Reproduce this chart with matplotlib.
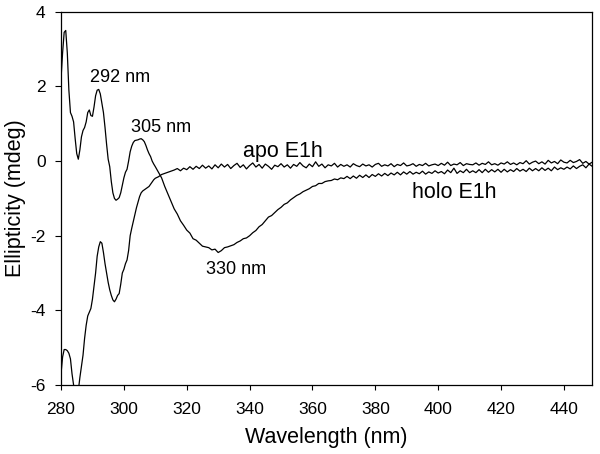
import numpy as np
import matplotlib
matplotlib.use("Agg")
import matplotlib.pyplot as plt

plt.rcParams['font.family'] = ['Liberation Sans', 'DejaVu Sans']
plt.rcParams['axes.unicode_minus'] = False

# wavelength grid: 0.5 nm steps over the structured part, 1 nm after that
wl_fine = np.arange(280.0, 310.01, 0.5)
wl_coarse = np.arange(311.0, 449.01, 1.0)
wavelength = np.concatenate([wl_fine, wl_coarse])

holo_fine = [
    2.20, 2.90, 3.45, 3.50, 2.90, 1.90, 1.30, 1.20, 1.05, 0.60,
    0.20, 0.05, 0.30, 0.65, 0.82, 0.90, 1.05, 1.30, 1.37, 1.22,
    1.20, 1.45, 1.75, 1.90, 1.92, 1.80, 1.55, 1.30, 0.90, 0.45,
    0.05, -0.15, -0.55, -0.85, -1.00, -1.05, -1.02, -0.98, -0.85, -0.65,
    -0.45, -0.30, -0.22, 0.00, 0.25, 0.40, 0.50, 0.55, 0.56, 0.57,
    0.59, 0.60, 0.57, 0.52, 0.42, 0.30, 0.20, 0.12, 0.00, -0.08,
    -0.15,
]
holo_coarse = [
    -0.30, -0.45, -0.68, -0.88, -1.08, -1.28, -1.42, -1.60, -1.72, -1.85,
    -1.93, -2.08, -2.12, -2.20, -2.28, -2.30, -2.32, -2.38, -2.36, -2.45,
    -2.40, -2.32, -2.30, -2.27, -2.24, -2.18, -2.14, -2.08, -2.06, -2.00,
    -1.92, -1.86, -1.76, -1.70, -1.60, -1.50, -1.46, -1.38, -1.30, -1.24,
    -1.16, -1.12, -1.04, -0.98, -0.92, -0.88, -0.82, -0.78, -0.74, -0.68,
    -0.66, -0.60, -0.60, -0.55, -0.53, -0.52, -0.48, -0.50, -0.45, -0.47,
    -0.41, -0.47, -0.40, -0.46, -0.38, -0.44, -0.37, -0.44, -0.36, -0.41,
    -0.34, -0.40, -0.33, -0.39, -0.32, -0.37, -0.30, -0.37, -0.29, -0.35,
    -0.28, -0.35, -0.30, -0.34, -0.27, -0.35, -0.29, -0.33, -0.26, -0.32,
    -0.28, -0.34, -0.24, -0.31, -0.19, -0.33, -0.26, -0.31, -0.22, -0.31,
    -0.26, -0.31, -0.23, -0.31, -0.22, -0.30, -0.23, -0.29, -0.22, -0.30,
    -0.22, -0.29, -0.23, -0.28, -0.20, -0.27, -0.22, -0.28, -0.19, -0.26,
    -0.20, -0.26, -0.18, -0.25, -0.19, -0.26, -0.16, -0.23, -0.18, -0.22,
    -0.16, -0.21, -0.13, -0.20, -0.14, -0.10, -0.18, -0.08, -0.14,
]

apo_fine = [
    -5.70, -5.25, -5.05, -5.05, -5.08, -5.15, -5.30, -5.70, -6.00, -6.40,
    -6.50, -6.15, -5.80, -5.50, -5.20, -4.75, -4.40, -4.15, -4.05, -3.95,
    -3.70, -3.35, -3.00, -2.55, -2.30, -2.16, -2.20, -2.45, -2.75, -3.00,
    -3.25, -3.45, -3.60, -3.72, -3.77, -3.70, -3.60, -3.55, -3.30, -3.00,
    -2.90, -2.75, -2.65, -2.40, -2.00, -1.80, -1.62, -1.45, -1.25, -1.10,
    -0.95, -0.85, -0.80, -0.77, -0.74, -0.71, -0.68, -0.62, -0.56, -0.50,
    -0.46,
]
apo_coarse = [
    -0.42, -0.36, -0.33, -0.30, -0.27, -0.24, -0.20, -0.26, -0.19, -0.23,
    -0.15, -0.22, -0.14, -0.20, -0.11, -0.19, -0.13, -0.21, -0.10, -0.18,
    -0.08, -0.16, -0.09, -0.20, -0.12, -0.06, -0.17, -0.10, -0.21, -0.12,
    -0.05, -0.16, -0.09, -0.19, -0.08, -0.14, -0.22, -0.11, -0.15, -0.07,
    -0.16, -0.10, -0.19, -0.09, -0.14, -0.04, -0.13, -0.18, -0.08, -0.15,
    -0.02, -0.14, -0.08, -0.18, -0.10, -0.13, -0.06, -0.16, -0.09, -0.14,
    -0.10, -0.16, -0.07, -0.12, -0.15, -0.08, -0.13, -0.10, -0.16, -0.09,
    -0.06, -0.14, -0.10, -0.13, -0.07, -0.15, -0.09, -0.12, -0.05, -0.13,
    -0.11, -0.07, -0.14, -0.09, -0.12, -0.06, -0.13, -0.10, -0.08, -0.12,
    -0.06, -0.11, -0.03, -0.12, -0.08, -0.10, -0.04, -0.12, -0.07, -0.09,
    -0.10, -0.05, -0.11, -0.06, -0.09, -0.02, -0.10, -0.07, -0.11, -0.05,
    -0.08, -0.02, -0.09, -0.05, -0.10, -0.04, -0.07, 0.01, -0.08, -0.03,
    0.00, -0.07, -0.02, -0.08, 0.02, -0.05, -0.01, -0.07, 0.03, -0.03,
    -0.05, 0.02, -0.04, -0.01, 0.04, -0.06, -0.01, -0.08, -0.03,
]

holo = np.array(holo_fine + holo_coarse)
apo = np.array(apo_fine + apo_coarse)

x_ticks = [280, 300, 320, 340, 360, 380, 400, 420, 440]
y_ticks = [-6, -4, -2, 0, 2, 4]

fig, ax = plt.subplots(figsize=(6, 4.54), dpi=100)
fig.subplots_adjust(left=0.1017, right=0.987, bottom=0.152, top=0.974)

ax.plot(wavelength, holo, color="black", lw=0.9)
ax.plot(wavelength, apo, color="black", lw=0.9)

ax.set_xlim(280, 449)
ax.set_ylim(-6, 4)
ax.set_xticks(x_ticks)
ax.set_yticks(y_ticks)
ax.tick_params(direction="out", width=0.8, labelsize=12.5)
ax.tick_params(axis="x", length=3.6, pad=8.6)
ax.tick_params(axis="y", length=4.6, pad=6.5)
for s in ax.spines.values():
    s.set_linewidth(0.9)

ax.set_xlabel("Wavelength (nm)", fontsize=15.5)
ax.set_ylabel("Ellipticity (mdeg)", fontsize=15.5)
ax.xaxis.set_label_coords(0.5, -0.1126)
ax.yaxis.set_label_coords(-0.066, 0.5)

ax.text(289.2, 2.12, "292 nm", fontsize=13, ha="left", va="baseline")
ax.text(302.2, 0.79, "305 nm", fontsize=13, ha="left", va="baseline")
ax.text(326.2, -3.03, "330 nm", fontsize=13, ha="left", va="baseline")
ax.text(337.9, 0.12, "apo E1h", fontsize=15.5, ha="left", va="baseline")
ax.text(391.6, -1.0, "holo E1h", fontsize=15.5, ha="left", va="baseline")

fig.savefig("out.png", dpi=100)
